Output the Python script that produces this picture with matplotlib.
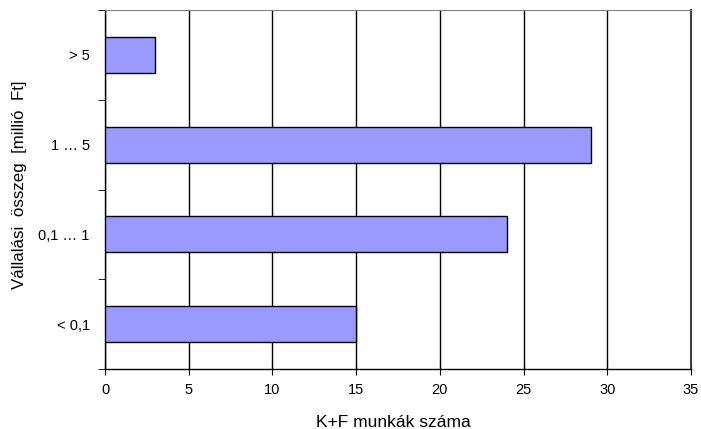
import matplotlib
matplotlib.use("Agg")
import matplotlib.pyplot as plt

categories = ["< 0,1", "0,1 … 1", "1 … 5", "> 5"]
values = [15, 24, 29, 3]
xticks = [0, 5, 10, 15, 20, 25, 30, 35]

plt.rcParams['font.family'] = ['Liberation Sans', 'DejaVu Sans']

fig = plt.figure(figsize=(7.01, 4.29), dpi=100)
ax = fig.add_axes([105/701, 1 - 369/429, 586/701, 359/429])

pos = list(range(len(categories)))
ax.barh(pos, values, height=0.4, color='#9999FF', edgecolor='black', linewidth=1, zorder=3)

ax.set_xlim(0, 35)
ax.set_ylim(-0.5, len(categories) - 0.5)
ax.set_xticks(xticks)
ax.set_xticklabels([str(t) for t in xticks], fontsize=10.5)
ax.xaxis.grid(True, color='black', linewidth=1, zorder=0)

ax.set_yticks(pos)
ax.set_yticklabels(categories, fontsize=10.5)
ax.tick_params(axis='y', which='major', length=0, pad=11)
ax.set_yticks([p + 0.5 for p in pos[:-1]] + [-0.5, len(categories) - 0.5], minor=True)
ax.tick_params(axis='y', which='minor', length=5, direction='out', color='black')
ax.tick_params(axis='x', direction='inout', length=8, color='black', pad=6)

for s in ['left', 'bottom']:
    ax.spines[s].set_color('black')
    ax.spines[s].set_linewidth(1)
ax.spines['top'].set_color('#808080')
ax.spines['right'].set_color('#404040')
ax.spines['right'].set_linewidth(1.5)

ax.set_xlabel("K+F munkák száma", fontsize=12.5)
ax.xaxis.set_label_coords(0.4923, -0.128)
ax.set_ylabel("Vállalási  összeg  [millió  Ft]", fontsize=12.2)
ax.yaxis.set_label_coords(-0.133, 0.5125)

fig.savefig("out.png", dpi=100)
